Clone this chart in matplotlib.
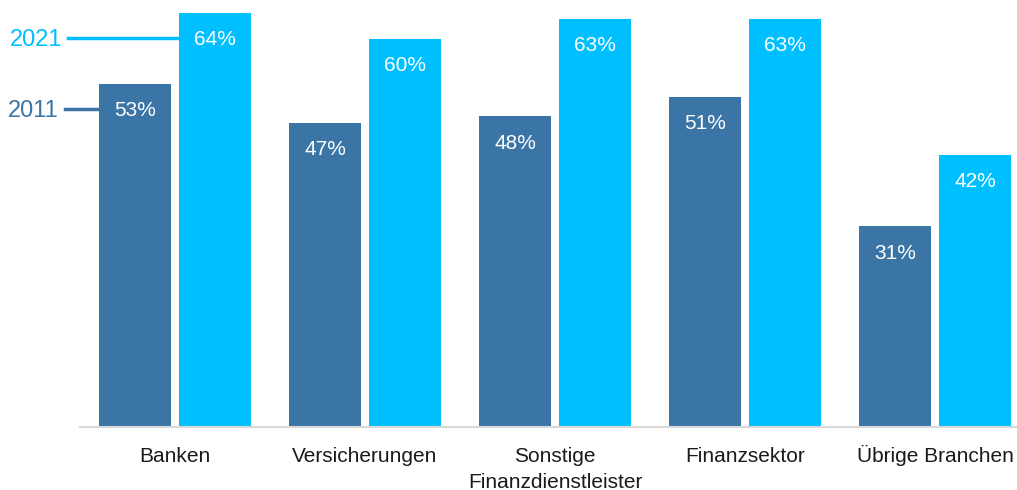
import matplotlib.pyplot as plt
import numpy as np
from matplotlib.transforms import ScaledTranslation

kategorien = ['Banken', 'Versicherungen', 'Sonstige\nFinanzdienstleister',
              'Finanzsektor', 'Übrige Branchen']
werte_2011 = [53, 47, 48, 51, 31]
werte_2021 = [64, 60, 63, 63, 42]

farbe_2011 = '#3A75A6'
farbe_2021 = '#00BFFF'

plt.rcParams['font.family'] = ['Liberation Sans', 'DejaVu Sans']

fig = plt.figure(figsize=(10.17, 4.9), dpi=100)
ax = fig.add_axes([80 / 1017, (490 - 427) / 490, 937 / 1017, 427 / 490])

x = np.arange(len(kategorien))
breite = 0.379
versatz = 0.2105
ax.bar(x - versatz, werte_2011, breite, color=farbe_2011)
ax.bar(x + versatz, werte_2021, breite, color=farbe_2021)

# Beschriftungen in den Balken
abstand = 3.8
for i in range(len(kategorien)):
    ax.text(x[i] - versatz, werte_2011[i] - abstand, f'{werte_2011[i]}%',
            ha='center', va='center_baseline', color='white', fontsize=15)
    ax.text(x[i] + versatz, werte_2021[i] - abstand, f'{werte_2021[i]}%',
            ha='center', va='center_baseline', color='white', fontsize=15)

# Legende als Linien links
y21 = werte_2021[0] - abstand
y11 = werte_2011[0] - abstand
ax.plot([-0.563, versatz - breite / 2], [y21, y21], color=farbe_2021, lw=2.5, clip_on=False)
ax.plot([-0.579, -versatz - breite / 2], [y11, y11], color=farbe_2011, lw=2.5, clip_on=False)
ax.text(-0.595, y21, '2021', ha='right', va='center_baseline', color=farbe_2021, fontsize=17)
ax.text(-0.615, y11, '2011', ha='right', va='center_baseline', color=farbe_2011, fontsize=17)

ax.set_xlim(-0.5, 4.43)
ax.set_ylim(0, 66)
ax.set_xticks(x)
ax.set_xticklabels(kategorien, fontsize=15, color='#1a1a1a', linespacing=1.44)
ax.tick_params(axis='x', length=0, pad=25)
for lbl in ax.get_xticklabels():
    lbl.set_verticalalignment('baseline')
    if '\n' in lbl.get_text():
        # mehrzeilig: erste Zeile auf gleiche Grundlinie wie die anderen
        lbl.set_transform(lbl.get_transform() + ScaledTranslation(0, -0.26, fig.dpi_scale_trans))
ax.set_yticks([])
for s in ['top', 'right', 'left']:
    ax.spines[s].set_visible(False)
ax.spines['bottom'].set_color('#d9d9d9')
ax.spines['bottom'].set_linewidth(1.5)

fig.savefig('out.png', dpi=100)
